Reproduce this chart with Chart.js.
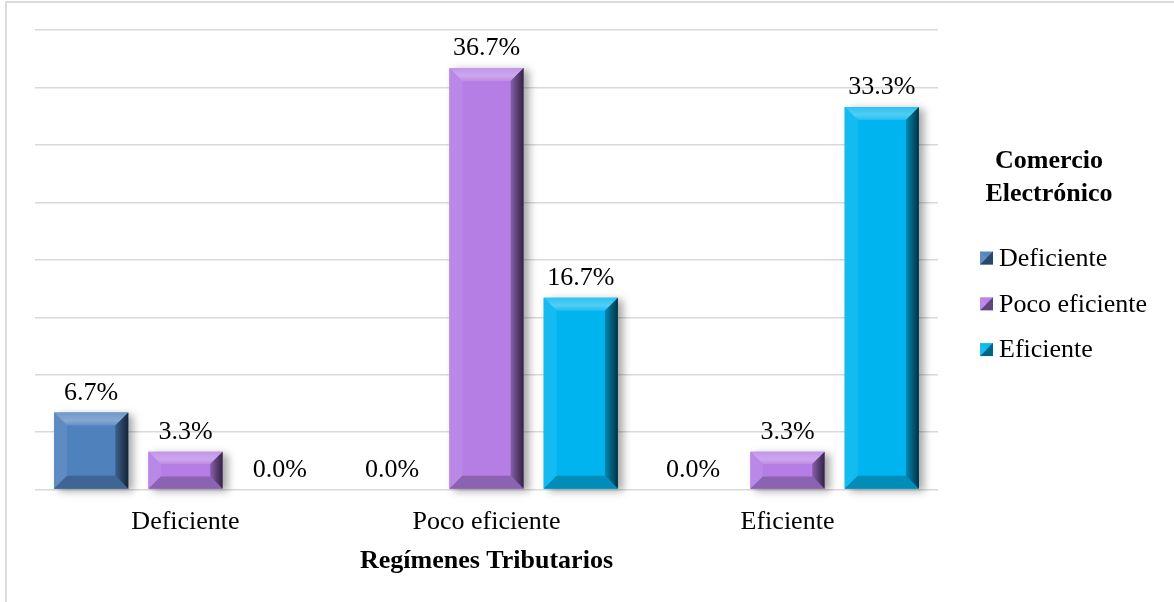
<!DOCTYPE html>
<html lang="es">
<head>
<meta charset="utf-8">
<title>Comercio Electrónico por Regímenes Tributarios</title>
<script src="https://cdn.jsdelivr.net/npm/chart.js@4.4.1/dist/chart.umd.min.js"></script>
<style>
    html, body { margin: 0; padding: 0; background: #fff; }
    #wrap { position: relative; width: 1174px; height: 602px; overflow: hidden; }
    #frame { position: absolute; left: 5px; top: 1px; width: 1300px; height: 800px; border: 2px solid #dcdcdc; box-sizing: border-box; }
    #chart { position: absolute; left: 0; top: 0; }
</style>
</head>
<body>
<div id="wrap">
    <div id="frame"></div>
    <canvas id="chart" width="1174" height="602"></canvas>
</div>
<script>
// ===== DATA =====
const categories = ["Deficiente", "Poco eficiente", "Eficiente"];
const seriesNames = ["Deficiente", "Poco eficiente", "Eficiente"];
const deficiente = [6.7, 0.0, 0.0];
const pocoEficiente = [3.3, 36.7, 3.3];
const eficiente = [0.0, 16.7, 33.3];
const yTicks = [0, 5, 10, 15, 20, 25, 30, 35, 40];

const legendTitle = ["Comercio", "Electrónico"];
const axisTitle = "Regímenes Tributarios";

const colors = ["#4F81BD", "#B47EE5", "#00B5EF"];
const FONT = "'Liberation Serif', 'Times New Roman', serif";

// ===== HELPERS =====
function shade(hex, amt) {
    const n = parseInt(hex.slice(1), 16);
    let r = n >> 16, g = (n >> 8) & 255, b = n & 255;
    const t = amt < 0 ? 0 : 255, p = Math.abs(amt);
    r = Math.round(r + (t - r) * p);
    g = Math.round(g + (t - g) * p);
    b = Math.round(b + (t - b) * p);
    return `rgb(${r},${g},${b})`;
}

function poly(ctx, pts, fill) {
    ctx.beginPath();
    ctx.moveTo(pts[0][0], pts[0][1]);
    for (let i = 1; i < pts.length; i++) ctx.lineTo(pts[i][0], pts[i][1]);
    ctx.closePath();
    ctx.fillStyle = fill;
    ctx.fill();
}

// ===== BAR SHADOW =====
const barShadow = {
    id: "barShadow",
    beforeDatasetDraw(chart) {
        const ctx = chart.ctx;
        ctx.save();
        ctx.shadowColor = "rgba(0,0,0,0.35)";
        ctx.shadowBlur = 8;
        ctx.shadowOffsetX = 5;
        ctx.shadowOffsetY = 2;
    },
    afterDatasetDraw(chart) {
        chart.ctx.restore();
    }
};

// ===== BEVEL + VALUE LABELS =====
const bevelLabels = {
    id: "bevelLabels",
    afterDatasetsDraw(chart) {
        const ctx = chart.ctx;
        chart.data.datasets.forEach((ds, di) => {
            const meta = chart.getDatasetMeta(di);
            const base = colors[di];
            meta.data.forEach((bar, i) => {
                const p = bar.getProps(["x", "y", "base", "width"], true);
                const L = p.x - p.width / 2, R = p.x + p.width / 2;
                const T = Math.min(p.y, p.base), B = Math.max(p.y, p.base);
                const h = B - T;
                if (h > 1) {
                    const d = Math.min(13, h / 3);
                    ctx.save();
                    // top face
                    const gTop = ctx.createLinearGradient(0, T, 0, T + d);
                    gTop.addColorStop(0, shade(base, 0.18));
                    gTop.addColorStop(0.6, shade(base, 0.32));
                    gTop.addColorStop(1, shade(base, 0.12));
                    poly(ctx, [[L, T], [R, T], [R - d, T + d], [L + d, T + d]], gTop);
                    // left face
                    poly(ctx, [[L, T], [L + d, T + d], [L + d, B - d], [L, B]], shade(base, 0.08));
                    // bottom face
                    poly(ctx, [[L, B], [R, B], [R - d, B - d], [L + d, B - d]], shade(base, -0.22));
                    // right face
                    const gR = ctx.createLinearGradient(R - d, 0, R, 0);
                    gR.addColorStop(0, shade(base, -0.25));
                    gR.addColorStop(1, shade(base, -0.72));
                    poly(ctx, [[R, T], [R, B], [R - d, B - d], [R - d, T + d]], gR);
                    ctx.restore();
                }
                // value label
                const v = ds.data[i];
                ctx.save();
                ctx.font = `26px ${FONT}`;
                ctx.fillStyle = "#000";
                ctx.textAlign = "center";
                ctx.textBaseline = "alphabetic";
                ctx.fillText(v.toFixed(1) + "%", p.x, T - 13);
                ctx.restore();
            });
        });
    }
};

// ===== LEGEND (right side) =====
const sideLegend = {
    id: "sideLegend",
    afterDraw(chart) {
        const ctx = chart.ctx;
        ctx.save();
        ctx.fillStyle = "#000";
        ctx.textBaseline = "middle";
        ctx.textAlign = "center";
        ctx.font = `bold 26px ${FONT}`;
        legendTitle.forEach((line, i) => ctx.fillText(line, 1049, 161 + i * 33));

        ctx.font = `26px ${FONT}`;
        ctx.textAlign = "left";
        chart.data.datasets.forEach((ds, i) => {
            const cy = 258 + i * 45.8;
            const x0 = 980, s = 13, y0 = cy - s / 2;
            const c = colors[i];
            ctx.fillStyle = shade(c, 0.05);
            ctx.fillRect(x0, y0, s, s);
            poly(ctx, [[x0 + s, y0], [x0 + s, y0 + s], [x0, y0 + s]], shade(c, -0.45));
            poly(ctx, [[x0, y0], [x0 + s / 2, y0 + s / 2], [x0, y0 + s]], shade(c, 0.1));
            ctx.fillStyle = "#000";
            ctx.fillText(ds.label, 999, cy + 1);
        });
        ctx.restore();
    }
};

// ===== CHART =====
const series = [deficiente, pocoEficiente, eficiente];

new Chart(document.getElementById("chart").getContext("2d"), {
    type: "bar",
    data: {
        labels: categories,
        datasets: series.map((values, i) => ({
            label: seriesNames[i],
            data: values,
            backgroundColor: colors[i],
            borderWidth: 0,
            categoryPercentage: 0.94,
            barPercentage: 0.787,
            clip: false
        }))
    },
    options: {
        responsive: false,
        animation: false,
        devicePixelRatio: 1,
        layout: { padding: { left: 35, right: 236, top: 30, bottom: 21 } },
        plugins: {
            legend: { display: false },
            tooltip: { enabled: false }
        },
        scales: {
            x: {
                grid: { display: false, drawTicks: false },
                border: { display: false },
                ticks: {
                    color: "#000",
                    padding: 17,
                    font: { family: FONT, size: 26 }
                },
                title: {
                    display: true,
                    text: axisTitle,
                    color: "#000",
                    padding: { top: -9, bottom: 4 },
                    font: { family: FONT, size: 26, weight: "bold" }
                }
            },
            y: {
                min: yTicks[0],
                max: yTicks[yTicks.length - 1],
                afterBuildTicks(scale) {
                    scale.ticks = yTicks.map(v => ({ value: v }));
                },
                grid: { color: "#d9d9d9", lineWidth: 1.5, drawTicks: false },
                border: { display: false },
                ticks: { display: false }
            }
        }
    },
    plugins: [barShadow, bevelLabels, sideLegend]
});
</script>
</body>
</html>
